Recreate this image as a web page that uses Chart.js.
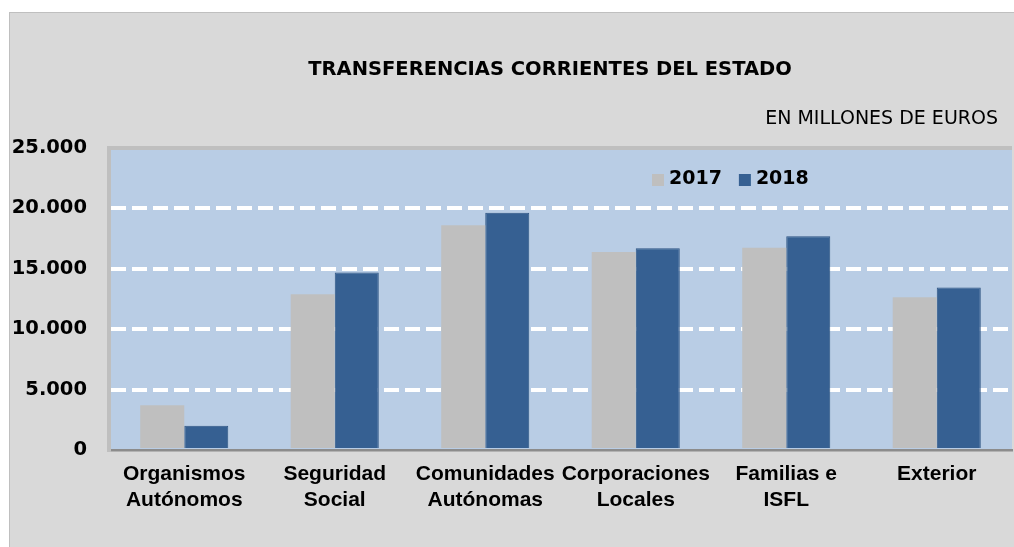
<!DOCTYPE html>
<html>

<head>
    <meta charset="UTF-8" />
    <title>Transferencias corrientes del Estado</title>
    <script src="https://cdn.jsdelivr.net/npm/chart.js"></script>
    <style>
        body {
            margin: 0;
            background: #ffffff;
        }

        #box {
            position: absolute;
            left: 9px;
            top: 12px;
            width: 1005px;
            height: 535px;
            box-sizing: border-box;
            background: #d9d9d9;
            border-left: 1px solid #bfbfbf;
            border-top: 1px solid #bfbfbf;
        }
    </style>
    <script type="text/javascript">
        const categories = [
            ['Organismos', 'Autónomos'],
            ['Seguridad', 'Social'],
            ['Comunidades', 'Autónomas'],
            ['Corporaciones', 'Locales'],
            ['Familias e', 'ISFL'],
            ['Exterior']
        ];
        const values2017 = [3700, 12900, 18600, 16400, 16750, 12650];
        const values2018 = [2000, 14700, 19650, 16700, 17700, 13450];
        const seriesNames = ['2017', '2018'];
        const yTicks = [0, 5000, 10000, 15000, 20000, 25000];
        const chartTitle = 'TRANSFERENCIAS CORRIENTES DEL ESTADO';
        const chartSubtitle = 'EN MILLONES DE EUROS';
    </script>
</head>

<body>
    <div id="box">
        <canvas id="chart" width="1004" height="534"></canvas>
    </div>

    <script>
        function miles(v) {
            return String(v).replace(/\B(?=(\d{3})+(?!\d))/g, '.');
        }

        // plot background, top edge, titles and legend drawn by hand
        const frame = {
            id: 'frame',
            beforeDraw(chart) {
                const a = chart.chartArea;
                const ctx = chart.ctx;
                ctx.save();
                ctx.fillStyle = '#b9cde5';
                ctx.fillRect(a.left, a.top, a.right - a.left, a.bottom - a.top);
                ctx.restore();
            },
            afterDraw(chart) {
                const a = chart.chartArea;
                const ctx = chart.ctx;
                ctx.save();
                ctx.strokeStyle = '#bfbfbf';
                ctx.lineWidth = 4;
                ctx.beginPath();
                ctx.moveTo(a.left - 2, a.top);
                ctx.lineTo(a.right, a.top);
                ctx.stroke();

                ctx.fillStyle = '#000000';
                ctx.textBaseline = 'middle';
                ctx.font = 'bold 19.5px "DejaVu Sans"';
                ctx.textAlign = 'center';
                ctx.fillText(chartTitle, 540, 57);
                ctx.font = '19px "DejaVu Sans"';
                ctx.textAlign = 'right';
                ctx.fillText(chartSubtitle, 988, 106);

                // legend
                ctx.font = 'bold 19px "DejaVu Sans"';
                ctx.textAlign = 'left';
                let x = 642;
                chart.data.datasets.forEach(ds => {
                    ctx.fillStyle = ds.backgroundColor;
                    ctx.fillRect(x, 161, 12, 12);
                    ctx.fillStyle = '#000000';
                    ctx.fillText(ds.label, x + 17, 166);
                    x += 17 + ctx.measureText(ds.label).width + 17;
                });
                ctx.restore();
            }
        };

        const ctx = document.getElementById('chart');
        const graph = new Chart(ctx, {
            type: 'bar',
            data: {
                labels: categories,
                datasets: [{
                    label: seriesNames[0],
                    data: values2017,
                    backgroundColor: '#bfbfbf',
                    borderWidth: 0
                }, {
                    label: seriesNames[1],
                    data: values2018,
                    backgroundColor: '#366092',
                    borderColor: '#2e5483',
                    borderWidth: 1
                }]
            },
            options: {
                responsive: false,
                animation: false,
                devicePixelRatio: 1,
                layout: {
                    padding: { top: 135, right: 2, left: 0, bottom: 0 }
                },
                datasets: {
                    bar: { categoryPercentage: 0.585, barPercentage: 1 }
                },
                plugins: {
                    legend: { display: false },
                    title: { display: false },
                    tooltip: { enabled: false }
                },
                scales: {
                    x: {
                        afterFit(scale) { scale.height = 97; },
                        grid: { display: false, drawTicks: false },
                        border: { display: true, color: '#8c8c8c', width: 2.5 },
                        ticks: {
                            autoSkip: false,
                            maxRotation: 0,
                            padding: 12,
                            color: '#000000',
                            font: { family: '"Liberation Sans", Arial', weight: 'bold', size: 21, lineHeight: 1.2 }
                        }
                    },
                    y: {
                        min: yTicks[0],
                        max: yTicks[yTicks.length - 1],
                        afterFit(scale) { scale.width = 99; },
                        afterBuildTicks(scale) {
                            scale.ticks = yTicks.map(v => ({ value: v }));
                        },
                        grid: {
                            drawTicks: false,
                            lineWidth: 4,
                            color: c => (c.tick && c.tick.value > 0 && c.tick.value < 25000) ? '#ffffff' : 'rgba(0,0,0,0)'
                        },
                        // in v4 border.dash sets the dash of the grid lines
                        border: { display: true, color: '#bfbfbf', width: 4, dash: [15, 6] },
                        ticks: {
                            padding: 22,
                            color: '#000000',
                            font: { family: '"DejaVu Sans"', weight: 'bold', size: 19.5 },
                            callback: v => miles(v)
                        }
                    }
                }
            },
            plugins: [frame]
        });
    </script>
</body>

</html>
